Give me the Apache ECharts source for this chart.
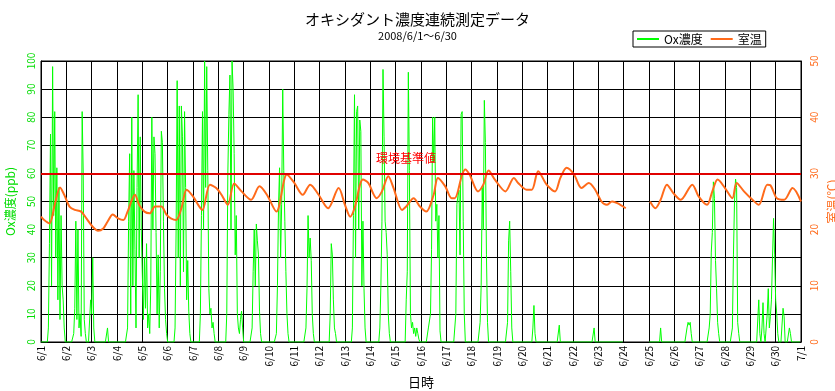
<!DOCTYPE html>
<html><head><meta charset="utf-8">
<script src="https://cdn.jsdelivr.net/npm/echarts@6/dist/echarts.min.js"></script>
<style>html,body{margin:0;padding:0;background:#fff}#c{width:835px;height:391px}</style>
</head><body><div id="c"></div>
<script>
// x tick labels (one per day boundary, 24h apart)
const dayLabels = ['6/1','6/2','6/3','6/4','6/5','6/6','6/7','6/8','6/9','6/10','6/11','6/12','6/13','6/14','6/15','6/16','6/17','6/18','6/19','6/20','6/21','6/22','6/23','6/24','6/25','6/26','6/27','6/28','6/29','6/30','7/1'];

// Ox concentration (ppb), hourly, one row per day (6/1 .. 6/30)
const oxHourly = [].concat(
  [0,0,0,0,0,0,0,5,35,74,20,98,45,82,30,62,15,55,8,45,20,15,5,0],
  [0,0,0,0,0,0,0,3,12,43,8,40,5,10,2,82,60,8,3,0,0,0,0,15],
  [10,30,5,0,0,0,0,0,0,0,0,0,0,0,0,5,0,0,0,0,0,0,0,0],
  [0,0,0,0,0,0,0,0,0,0,5,43,67,10,80,20,61,33,5,55,88,30,73,40],
  [40,8,30,12,35,5,10,3,20,80,40,73,67,39,10,31,5,25,75,71,43,19,8,3],
  [0,0,0,0,0,0,0,5,40,93,30,84,20,84,73,25,82,55,15,29,11,3,0,0],
  [0,0,0,0,0,0,0,10,45,82,40,100,55,98,61,19,10,12,5,7,3,0,0,0],
  [0,0,0,0,0,0,0,0,10,60,81,95,40,100,90,67,31,45,10,5,3,8,11,5],
  [0,0,0,0,0,0,0,0,5,25,40,20,42,36,31,11,3,0,0,0,0,0,0,0],
  [0,0,0,0,0,0,0,3,20,48,62,30,49,90,61,43,25,10,3,0,0,0,0,0],
  [0,0,0,0,0,0,0,0,0,0,0,5,19,45,30,37,29,10,3,0,0,0,0,0],
  [0,0,0,0,0,0,0,0,0,0,10,35,31,15,5,3,0,0,0,0,0,0,0,0],
  [0,0,0,0,0,0,0,5,45,88,30,82,84,40,79,75,20,43,19,5,0,0,0,0],
  [0,0,0,0,0,0,0,0,0,5,20,43,97,73,43,39,31,10,3,0,0,0,0,0],
  [0,0,0,0,0,0,0,0,0,0,15,25,96,61,10,5,7,3,5,2,5,3,1,0],
  [0,0,0,0,0,0,0,5,5,10,33,80,64,80,43,49,30,45,4,0,0,0,0,0],
  [0,0,0,0,0,0,0,0,0,10,49,52,54,31,81,82,43,10,0,0,0,0,0,0],
  [0,0,0,0,0,0,0,0,7,20,55,40,86,71,31,7,0,0,0,0,0,0,0,0],
  [0,0,0,0,0,0,0,0,0,0,7,36,43,25,5,0,0,0,0,0,0,0,0,0],
  [0,0,0,0,0,0,0,0,0,0,5,13,3,0,0,0,0,0,0,0,0,0,0,0],
  [0,0,0,0,0,0,0,0,0,0,0,6,0,0,0,0,0,0,0,0,0,0,0,0],
  [0,0,0,0,0,0,0,0,0,0,0,0,0,0,0,0,0,0,0,0,5,0,0,0],
  [0,0,0,0,0,0,0,0,0,0,0,0,0,0,0,0,0,0,0,0,0,0,0,0],
  [null,null,null,null,null,null,null,null,null,null,null,null,null,null,null,null,null,null,null,null,null,null,null,null],
  [0,0,0,0,0,0,0,0,0,0,0,5,0,0,0,0,0,0,0,0,0,0,0,0],
  [0,0,0,0,0,0,0,0,0,0,0,0,5,7,6,7,3,0,0,0,0,0,0,0],
  [0,0,0,0,0,0,0,0,0,5,10,32,39,57,51,29,19,7,3,0,0,0,0,0],
  [0,0,0,0,0,0,0,5,31,50,58,55,7,3,0,0,0,0,0,0,0,0,0,0],
  [0,0,0,0,0,0,0,0,15,3,0,5,14,3,0,5,10,19,5,9,15,30,44,31],
  [15,10,3,0,0,0,0,12,9,0,0,0,0,5,3,0,0,0,0,0,0,0,0,0]
);

// Room temperature (°C): hour since 6/1 0:00 and reading
const tempHours = [0,3,8,13,18,22,27,32,38,43,49,54,59,63,68,73,78,82,89,93,98,103,108,114,119,123,128,133,138,144,150,153,160,166,171,177,183,190,199,207,214,223,233,240,248,255,263,272,282,288,293,297,305,310,318,323,329,334,342,346,353,359,365,372,376,383,389,392,399,402,406,414,419,424,430,440,448,452,460,465,471,479,487,492,498,505,512,519,525,531,536,541,546,554,565,577,582,587,593,599,606,617,623,631,636,641,648,655,659,666,674,680,688,691,697,704,712,720];
const tempValues = [22.3,21.7,21.1,24.4,27.5,26.2,24.1,23.5,23.2,22.0,20.5,19.8,20.2,21.4,22.7,22.0,21.7,23.2,26.2,24.4,23.2,22.9,24.1,24.1,22.6,22.0,21.7,23.8,27.1,25.9,24.1,23.5,28.0,27.4,26.2,24.4,28.2,26.8,25.3,27.7,26.2,23.2,29.8,28.3,26.2,28.0,26.2,23.8,27.4,24.4,22.3,23.8,28.9,28.3,25.6,26.8,29.5,27.4,23.5,24.1,25.6,24.1,23.2,26.2,29.2,27.7,25.6,25.6,29.8,30.7,29.8,26.8,28.0,30.5,28.9,26.8,29.2,28.3,27.1,27.1,30.4,28.0,26.8,29.2,31.0,29.8,27.4,28.3,27.1,25.0,24.4,25.0,24.7,23.8,null,25.0,23.8,25.3,28.0,26.5,25.3,28.0,25.9,24.4,26.8,28.9,27.4,25.6,28.3,26.8,25.3,24.4,28.0,27.9,25.6,25.3,27.4,25.0];

const standardValue = 60;

const oxData = oxHourly.map((v, i) => [i, v]);
const tempData = tempHours.map((h, i) => [h, tempValues[i]]);

const FONT = "'Noto Sans CJK JP', sans-serif";
const GREEN = '#00ff00';
const GREEN_TXT = '#00dd00';
const ORANGE = '#ff6a1a';

const chart = echarts.init(document.getElementById('c'));
chart.setOption({
  animation: false,
  backgroundColor: '#fff',
  textStyle: { fontFamily: FONT },
  title: {
    text: 'オキシダント濃度連続測定データ',
    subtext: '2008/6/1～6/30',
    left: 'center', top: 7, itemGap: 3,
    textStyle: { fontSize: 15, fontWeight: 'normal', color: '#000', fontFamily: FONT },
    subtextStyle: { fontSize: 11, color: '#000', fontFamily: FONT }
  },
  legend: {
    data: ['Ox濃度', '室温'],
    left: 633, top: 31,
    icon: 'rect',
    itemWidth: 22, itemHeight: 2, itemGap: 8,
    borderColor: '#000', borderWidth: 1, borderRadius: 0,
    padding: [2, 4],
    backgroundColor: '#fff',
    textStyle: { fontSize: 12, color: '#000', fontFamily: FONT }
  },
  grid: { left: 41, right: 34, top: 61, bottom: 49, show: true, borderColor: '#000', borderWidth: 1, outerBoundsMode: 'none', containLabel: false },
  xAxis: {
    type: 'value', min: 0, max: 720, interval: 24,
    axisLine: { lineStyle: { color: '#000' } },
    axisTick: { show: false },
    splitLine: { show: true, lineStyle: { color: '#000', width: 1 } },
    axisLabel: { rotate: 90, fontSize: 10, color: '#000', margin: 4, formatter: v => dayLabels[Math.round(v / 24)] },
    name: '日時', nameLocation: 'middle', nameGap: 34,
    nameTextStyle: { fontSize: 13, color: '#000' }
  },
  yAxis: [{
    type: 'value', min: 0, max: 100, interval: 10, position: 'left',
    axisLine: { show: true, lineStyle: { color: '#000' } },
    axisTick: { show: false },
    splitLine: { show: true, lineStyle: { color: '#000', width: 1 } },
    axisLabel: { rotate: 90, fontSize: 10, color: GREEN_TXT, margin: 5 },
    name: 'Ox濃度(ppb)', nameLocation: 'middle', nameRotate: 90, nameGap: 25,
    nameTextStyle: { fontSize: 12, color: GREEN_TXT }
  }, {
    type: 'value', min: 0, max: 50, interval: 10, position: 'right',
    axisLine: { show: true, lineStyle: { color: '#000' } },
    axisTick: { show: false },
    splitLine: { show: false },
    axisLabel: { rotate: 90, fontSize: 10, color: ORANGE, margin: 8 },
    name: '室温(℃)', nameLocation: 'middle', nameRotate: 90, nameGap: 24,
    nameTextStyle: { fontSize: 12, color: ORANGE }
  }],
  series: [{
    name: 'Ox濃度', type: 'line', data: oxData, symbol: 'none',
    lineStyle: { color: GREEN, width: 1 }, itemStyle: { color: GREEN },
    z: 2,
    markLine: {
      silent: true, symbol: 'none',
      lineStyle: { color: '#e00000', width: 2, type: 'solid' },
      label: { show: true, position: 'insideMiddleTop', formatter: '環境基準値', color: '#ff0000', fontSize: 12, fontFamily: FONT, padding: [0, 30, 4, 0] },
      data: [{ yAxis: standardValue }]
    }
  }, {
    name: '室温', type: 'line', yAxisIndex: 1, data: tempData, symbol: 'none',
    smooth: 0.3, connectNulls: false,
    lineStyle: { color: ORANGE, width: 2 }, itemStyle: { color: ORANGE },
    z: 3
  }]
});
</script>
</body></html>
